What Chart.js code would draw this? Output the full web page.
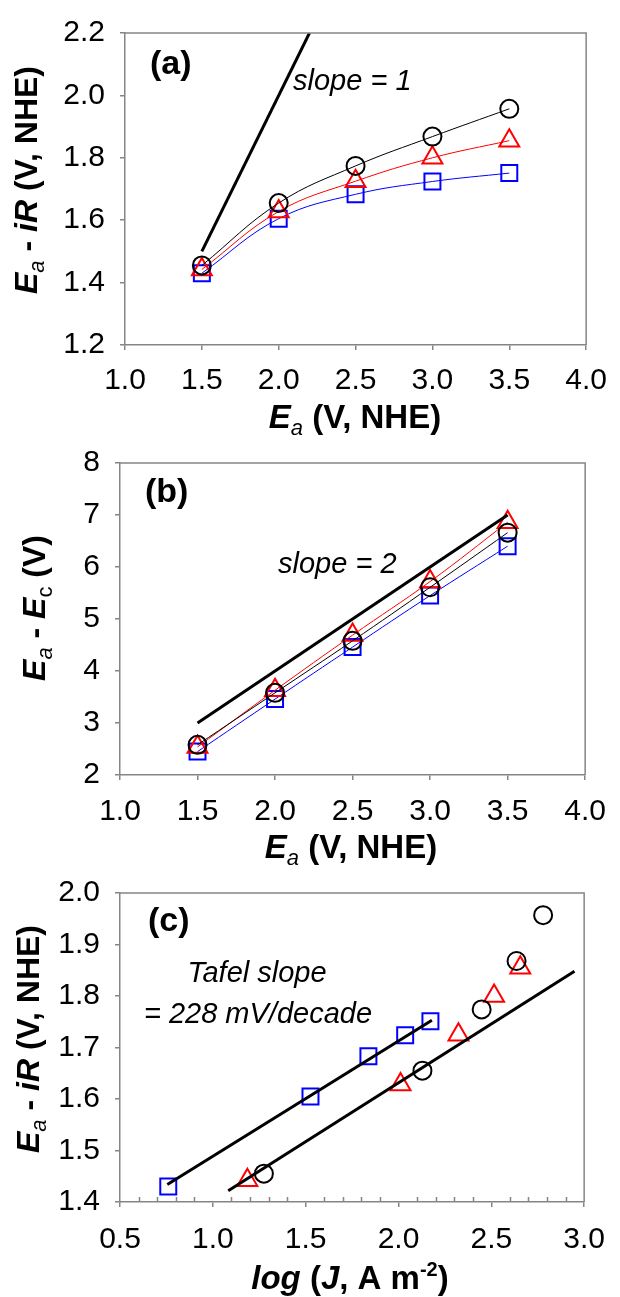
<!DOCTYPE html>
<html>
<head>
<meta charset="utf-8">
<script src="https://cdn.jsdelivr.net/npm/chart.js@4.4.1/dist/chart.umd.min.js"></script>
<style>
  html, body { margin: 0; padding: 0; background: #fff; }
  #wrap { position: relative; width: 620px; height: 1297px; }
  canvas { position: absolute; left: 0; }
  #chartA { top: 0; }
  #chartB { top: 430px; }
  #chartC { top: 860px; }
</style>
</head>
<body>
<div id="wrap">
  <canvas id="chartA" width="620" height="445"></canvas>
  <canvas id="chartB" width="620" height="445"></canvas>
  <canvas id="chartC" width="620" height="437"></canvas>
</div>
<script>
(function () {
    "use strict";

    // applied anode potential Ea (V, NHE)
    var eaApplied = [1.5, 2.0, 2.5, 3.0, 3.5];

    // Ea - iR (V, NHE), used in (a) and (c)
    var irCircle = [1.455, 1.655, 1.774, 1.868, 1.957];
    var irTriangle = [1.442, 1.628, 1.725, 1.800, 1.855];
    var irSquare = [1.430, 1.605, 1.683, 1.724, 1.751];

    // Ea - Ec (V), panel (b)
    var ecCircle = [2.58, 3.58, 4.58, 5.61, 6.66];
    var ecTriangle = [2.54, 3.63, 4.69, 5.72, 6.86];
    var ecSquare = [2.45, 3.46, 4.46, 5.45, 6.40];

    // log (J, A m-2), panel (c)
    var logJCircle = [1.275, 2.129, 2.448, 2.636, 2.779];
    var logJTriangle = [1.186, 2.011, 2.323, 2.515, 2.656];
    var logJSquare = [0.760, 1.526, 1.838, 2.036, 2.172];

    // guide lines
    var slope1X = [1.5, 2.2], slope1Y = [1.5, 2.2];
    var slope2X = [1.5, 3.5], slope2Y = [3.0, 7.0];
    var tafelUpX = [0.755, 2.180], tafelUpY = [1.434, 1.753];
    var tafelLoX = [1.083, 2.948], tafelLoY = [1.422, 1.848];

    // tick labels
    var eaTicks = [1.0, 1.5, 2.0, 2.5, 3.0, 3.5, 4.0];
    var irTicksA = [1.2, 1.4, 1.6, 1.8, 2.0, 2.2];
    var ecTicks = [2, 3, 4, 5, 6, 7, 8];
    var logJTicks = [0.5, 1.0, 1.5, 2.0, 2.5, 3.0];
    var irTicksC = [1.4, 1.5, 1.6, 1.7, 1.8, 1.9, 2.0];

    var FONT = '"Liberation Sans", Arial, Helvetica, sans-serif';
    var GRAY = '#858585';
    var TAG = 'bold 34px ' + FONT;
    var XB = 'bold 33px ' + FONT;
    var XIB = 'italic bold 33px ' + FONT;
    var YB = 'bold 32px ' + FONT;
    var YIB = 'italic bold 32px ' + FONT;
    var SUBI = 'italic 22px ' + FONT;
    var SUB = '22px ' + FONT;
    var ANN = 'italic 29px ' + FONT;

    function pts(xs, ys) {
        return xs.map(function (x, i) { return { x: x, y: ys[i] }; });
    }

    function series(xs, ys, color, style, radius, line) {
        return {
            data: pts(xs, ys),
            showLine: line,
            borderColor: color,
            borderWidth: 1,
            tension: 0.4,
            pointStyle: style,
            pointRadius: radius,
            pointBorderWidth: 2,
            pointBorderColor: color,
            pointBackgroundColor: 'rgba(0,0,0,0)'
        };
    }

    function guide(xs, ys) {
        return {
            data: pts(xs, ys),
            showLine: true,
            borderColor: '#000',
            borderWidth: 3,
            pointRadius: 0,
            tension: 0
        };
    }

    function axis(min, max, ticks, size, pad, digits) {
        return {
            type: 'linear',
            min: min,
            max: max,
            afterBuildTicks: function (s) {
                s.ticks = ticks.map(function (v) { return { value: v }; });
            },
            afterFit: function (s) {
                if (s.isHorizontal()) { s.height = size; } else { s.width = size; }
            },
            grid: { drawOnChartArea: false, tickLength: 5, color: GRAY, lineWidth: 1.5 },
            border: { color: GRAY, width: 1.5 },
            ticks: {
                color: '#000',
                autoSkip: false,
                maxRotation: 0,
                padding: pad,
                font: { family: FONT, size: 30 },
                callback: function (v) { return v.toFixed(digits); }
            }
        };
    }

    // rich text: runs of [text, font, dy]
    function drawRuns(ctx, it) {
        ctx.save();
        ctx.translate(it.x, it.y);
        if (it.rot) { ctx.rotate(it.rot); }
        ctx.textBaseline = 'alphabetic';
        ctx.textAlign = 'left';
        ctx.fillStyle = '#000';
        var total = 0;
        it.runs.forEach(function (r) { ctx.font = r[1]; total += ctx.measureText(r[0]).width; });
        var cx = it.align === 'center' ? -total / 2 : 0;
        it.runs.forEach(function (r) {
            ctx.font = r[1];
            ctx.fillText(r[0], cx, r[2] || 0);
            cx += ctx.measureText(r[0]).width;
        });
        ctx.restore();
    }

    function decor(items, minor) {
        return {
            id: 'decor',
            afterDraw: function (chart) {
                var ctx = chart.ctx;
                var a = chart.chartArea;
                ctx.save();
                ctx.strokeStyle = GRAY;
                ctx.lineWidth = 1.5;
                ctx.beginPath();
                ctx.moveTo(a.left, a.top);
                ctx.lineTo(a.right, a.top);
                ctx.lineTo(a.right, a.bottom);
                ctx.stroke();
                if (minor) {
                    var xs = chart.scales.x;
                    ctx.beginPath();
                    for (var i = 6; i < 30; i++) {
                        if (i % 5 === 0) { continue; }
                        var px = Math.round(xs.getPixelForValue(i / 10)) + 0.5;
                        ctx.moveTo(px, a.bottom);
                        ctx.lineTo(px, a.bottom - 5);
                    }
                    ctx.stroke();
                }
                ctx.restore();
                items.forEach(function (it) { drawRuns(ctx, it); });
            }
        };
    }

    function makeChart(id, datasets, xAxis, yAxis, padding, plugin) {
        return new Chart(document.getElementById(id), {
            type: 'scatter',
            data: { datasets: datasets },
            options: {
                responsive: false,
                animation: false,
                devicePixelRatio: 1,
                layout: { padding: padding },
                plugins: { legend: { display: false }, tooltip: { enabled: false } },
                scales: { x: xAxis, y: yAxis }
            },
            plugins: [plugin]
        });
    }

    var eaTitle = [['E', XIB], ['a', SUBI, 7], [' (V, NHE)', XB]];
    var irTitle = [['E', YIB], ['a', SUBI, 7], [' - ', YB], ['iR', YIB], [' (V, NHE)', YB]];

    // (a)
    makeChart('chartA', [
        guide(slope1X, slope1Y),
        series(eaApplied, irCircle, '#000', 'circle', 9, true),
        series(eaApplied, irTriangle, '#ff0000', 'triangle', 11.5, true),
        series(eaApplied, irSquare, '#0000ff', 'rect', 11.3, true)
    ], axis(1.0, 4.0, eaTicks, 100, 13, 1), axis(1.2, 2.2, irTicksA, 125, 15, 1),
        { top: 25, right: 22, left: 0, bottom: 0 },
        decor([
            { x: 150, y: 74, runs: [['(a)', TAG]] },
            { x: 293, y: 90, runs: [['slope = 1', ANN]] },
            { x: 355, y: 428, align: 'center', runs: eaTitle },
            { x: 37, y: 180, align: 'center', rot: -Math.PI / 2, runs: irTitle }
        ], false));

    // (b)
    makeChart('chartB', [
        guide(slope2X, slope2Y),
        series(eaApplied, ecCircle, '#000', 'circle', 9, true),
        series(eaApplied, ecTriangle, '#ff0000', 'triangle', 11.5, true),
        series(eaApplied, ecSquare, '#0000ff', 'rect', 11.3, true)
    ], axis(1.0, 4.0, eaTicks, 100, 14, 1), axis(2, 8, ecTicks, 120, 15, 0),
        { top: 24, right: 26, left: 0, bottom: 0 },
        decor([
            { x: 145, y: 72, runs: [['(b)', TAG]] },
            { x: 278, y: 143, runs: [['slope = 2', ANN]] },
            { x: 351, y: 428, align: 'center', runs: eaTitle },
            { x: 45, y: 178, align: 'center', rot: -Math.PI / 2,
              runs: [['E', YIB], ['a', SUBI, 7], [' - ', YB], ['E', YIB], ['c', SUB, 7], [' (V)', YB]] }
        ], false));

    // (c)
    makeChart('chartC', [
        guide(tafelUpX, tafelUpY),
        guide(tafelLoX, tafelLoY),
        series(logJCircle, irCircle, '#000', 'circle', 9, false),
        series(logJTriangle, irTriangle, '#ff0000', 'triangle', 11.5, false),
        series(logJSquare, irSquare, '#0000ff', 'rect', 11.3, false)
    ], axis(0.5, 3.0, logJTicks, 95, 15, 1), axis(1.4, 2.0, irTicksC, 120, 15, 1),
        { top: 21, right: 25, left: 0, bottom: 0 },
        decor([
            { x: 148, y: 71, runs: [['(c)', TAG]] },
            { x: 257, y: 122, align: 'center', runs: [['Tafel slope', ANN]] },
            { x: 258, y: 163, align: 'center', runs: [['= 228 mV/decade', ANN]] },
            { x: 350, y: 429, align: 'center',
              runs: [['log', XIB], [' (', XB], ['J', XIB], [', A m', XB], ['-2', 'bold 20px ' + FONT, -13], [')', XB]] },
            { x: 39, y: 179, align: 'center', rot: -Math.PI / 2, runs: irTitle }
        ], true));
})();
</script>
</body>
</html>
